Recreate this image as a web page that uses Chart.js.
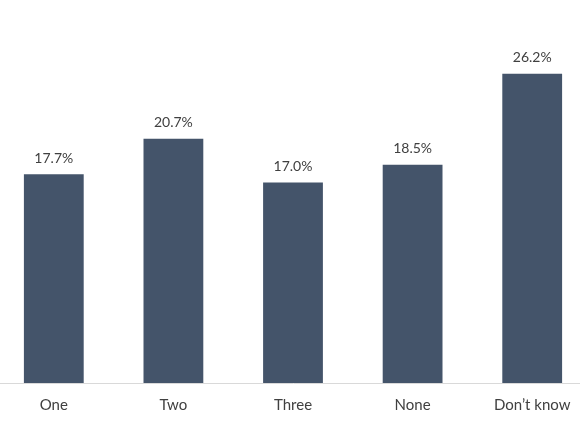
<!DOCTYPE html>
<html>
<head>
<meta charset="utf-8">
<script src="https://cdn.jsdelivr.net/npm/chart.js"></script>
<style>
  html, body { margin: 0; padding: 0; background: #fff; overflow: hidden; }
  #wrap { position: absolute; left: -6px; top: 0; width: 598px; height: 435px; }
</style>
</head>
<body>
<div id="wrap"><canvas id="chart"></canvas></div>
<script>
const categories = ["One", "Two", "Three", "None", "Don\u2019t know"];
const shares = [17.7, 20.7, 17.0, 18.5, 26.2];

// labels above each bar
const valueLabels = {
  id: "valueLabels",
  afterDatasetsDraw(chart) {
    const ctx = chart.ctx;
    const meta = chart.getDatasetMeta(0);
    ctx.save();
    ctx.font = "14px Lato";
    ctx.fillStyle = "#404040";
    ctx.textAlign = "center";
    ctx.textBaseline = "middle";
    meta.data.forEach((bar, i) => {
      ctx.fillText(shares[i].toFixed(1) + "%", bar.x, bar.y - 16);
    });
    ctx.restore();
  }
};

new Chart(document.getElementById("chart"), {
  type: "bar",
  data: {
    labels: categories,
    datasets: [{
      data: shares,
      backgroundColor: "#44546A",
      barPercentage: 0.5,
      categoryPercentage: 1
    }]
  },
  options: {
    responsive: true,
    maintainAspectRatio: false,
    animation: false,
    layout: { padding: { top: 29, bottom: 16 } },
    plugins: { legend: { display: false }, tooltip: { enabled: false } },
    scales: {
      x: {
        grid: { display: false },
        border: { color: "#d9d9d9", width: 1 },
        ticks: { color: "#404040", font: { family: "Lato", size: 15 }, padding: 5 }
      },
      y: { display: false, min: 0, max: 30 }
    }
  },
  plugins: [valueLabels]
});
</script>
</body>
</html>
